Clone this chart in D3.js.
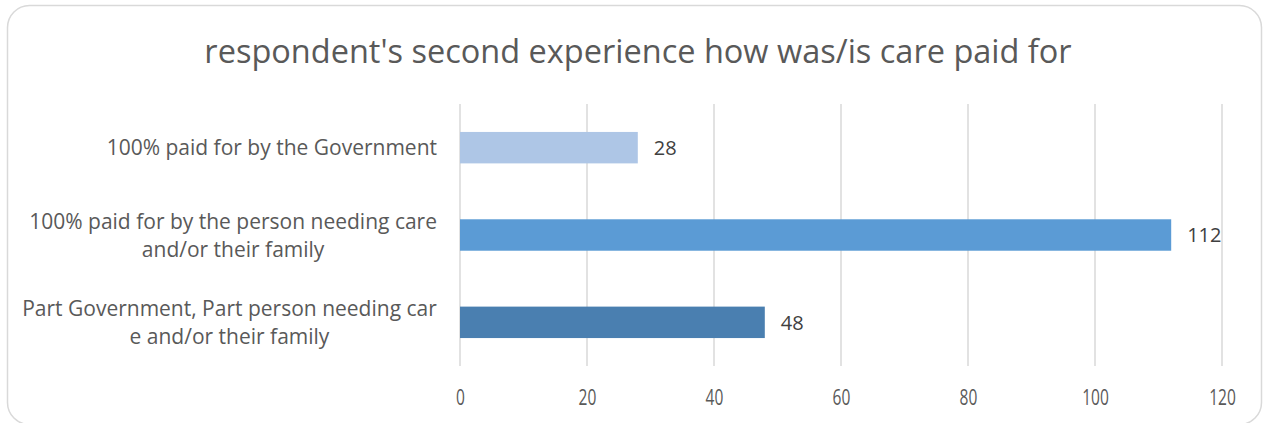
<!DOCTYPE html>
<html>
<head>
<meta charset="utf-8">
<script src="https://cdn.jsdelivr.net/npm/d3@7"></script>
<style>
  body { margin: 0; background: #fff; }
  svg text { font-family: "Open Sans", "Liberation Sans", sans-serif; }
</style>
</head>
<body>
<div id="bd"></div>
<script>
var categories = [
    ["100% paid for by the Government"],
    ["100% paid for by the person needing care", "and/or their family"],
    ["Part Government, Part person needing car", "e and/or their family"]
];
var values = [28, 112, 48];
var barColors = ["#aec6e6", "#5b9bd5", "#4a7fb0"];
var tickValues = [0, 20, 40, 60, 80, 100, 120];
var title = "respondent's second experience how was/is care paid for";

var width = 1269, height = 423;
var margin = {top: 104, right: 47, bottom: 57, left: 460};

var svg = d3.select("#bd").append("svg")
    .attr("width", width)
    .attr("height", height);

// card
svg.append("rect")
    .attr("x", 7.5).attr("y", 5.5)
    .attr("width", width - 15).attr("height", height - 4)
    .attr("rx", 22).attr("ry", 22)
    .attr("fill", "#fff")
    .attr("stroke", "#d9d9d9")
    .attr("stroke-width", 1.5);

svg.append("text")
    .attr("x", 638).attr("y", 63)
    .attr("text-anchor", "middle")
    .attr("fill", "#595959")
    .style("font-size", "32.5px")
    .text(title);

var x = d3.scaleLinear().domain([0, 120]).range([margin.left, width - margin.right]);
var y = d3.scaleBand().domain(d3.range(values.length))
    .range([margin.top, height - margin.bottom])
    .paddingInner(0.64).paddingOuter(0.32);

// gridlines
svg.append("g").selectAll("line")
    .data(tickValues)
    .enter().append("line")
    .attr("x1", function (d) { return x(d); })
    .attr("x2", function (d) { return x(d); })
    .attr("y1", margin.top)
    .attr("y2", height - margin.bottom)
    .attr("stroke", "#d9d9d9")
    .attr("stroke-width", 1.5);

var xAxis = svg.append("g")
    .attr("transform", "translate(0," + (height - margin.bottom) + ")")
    .call(d3.axisBottom(x).tickValues(tickValues).tickSize(0).tickPadding(24));
xAxis.select(".domain").remove();
// tick labels look narrow in the original, squeeze them a bit
xAxis.selectAll("text")
    .attr("fill", "#595959")
    .style("font-size", "21px")
    .attr("transform", "scale(0.74,1)");

// bars
svg.append("g").selectAll("rect")
    .data(values)
    .enter().append("rect")
    .attr("x", x(0))
    .attr("y", function (d, i) { return y(i); })
    .attr("width", function (d) { return x(d) - x(0); })
    .attr("height", y.bandwidth())
    .attr("fill", function (d, i) { return barColors[i]; });

// value labels
svg.append("g").selectAll("text")
    .data(values)
    .enter().append("text")
    .attr("x", function (d) { return x(d) + 16; })
    .attr("y", function (d, i) { return y(i) + y.bandwidth() / 2; })
    .attr("dy", "0.36em")
    .attr("fill", "#404040")
    .style("font-size", "20px")
    .text(function (d) { return d; });

// category labels
var lineH = 28;
var cat = svg.append("g").selectAll("text")
    .data(categories)
    .enter().append("text")
    .attr("text-anchor", "middle")
    .attr("fill", "#595959")
    .style("font-size", "21px");

cat.each(function (lines, i) {
    var cy = y(i) + y.bandwidth() / 2;
    var t = d3.select(this);
    var first = cy - (lines.length - 1) * lineH / 2;
    lines.forEach(function (l, j) {
        t.append("tspan")
            .attr("x", 0)
            .attr("y", first + j * lineH)
            .attr("dy", "0.36em")
            .text(l);
    });
});
// right-align block, lines centred within it
cat.each(function () {
    var w = this.getBBox().width;
    d3.select(this).attr("transform", "translate(" + (437 - w / 2) + ",0)");
});
</script>
</body>
</html>
